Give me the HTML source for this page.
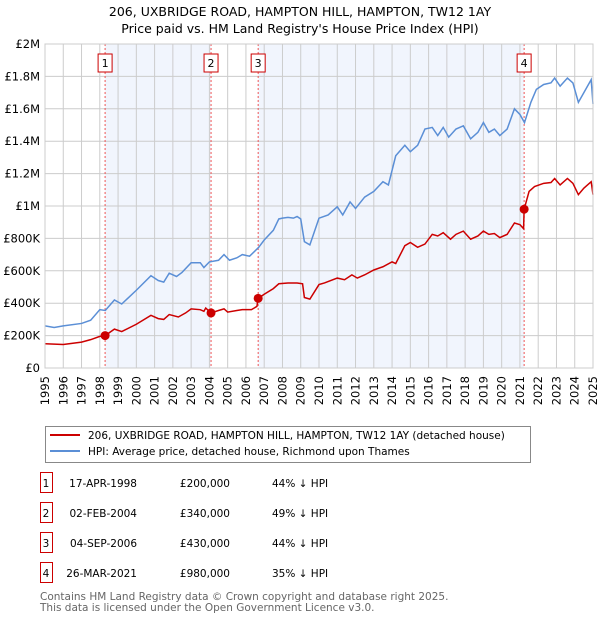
<!DOCTYPE html>
<html><head><meta charset="utf-8"><style>
body{margin:0;background:#fff;font-family:"DejaVu Sans","Liberation Sans",sans-serif;}
svg text{font-family:"DejaVu Sans","Liberation Sans",sans-serif;}
</style></head><body>
<svg id="c" width="600" height="620" viewBox="0 0 600 620" xmlns="http://www.w3.org/2000/svg">
<text x="300" y="16" text-anchor="middle" font-size="12.5" fill="#000">206, UXBRIDGE ROAD, HAMPTON HILL, HAMPTON, TW12 1AY</text>
<text x="300" y="33" text-anchor="middle" font-size="12.5" fill="#000">Price paid vs. HM Land Registry's House Price Index (HPI)</text>
<g id="shade"></g><g id="grid"></g><g id="vlines"></g><g id="series"></g><g id="axes"></g>
<g>
<rect x="45.5" y="426.5" width="485" height="36" fill="#fff" stroke="#888"/>
<line x1="50" y1="435" x2="80" y2="435" stroke="#cc0000" stroke-width="2"/>
<text x="88" y="439" font-size="10.5">206, UXBRIDGE ROAD, HAMPTON HILL, HAMPTON, TW12 1AY (detached house)</text>
<line x1="50" y1="451" x2="80" y2="451" stroke="#5b8fd6" stroke-width="2"/>
<text x="88" y="455" font-size="10.5">HPI: Average price, detached house, Richmond upon Thames</text>
</g>
<g id="table" font-size="10.5"></g>
<text x="40" y="600" font-size="10.5" fill="#666">Contains HM Land Registry data © Crown copyright and database right 2025.</text>
<text x="40" y="611" font-size="10.5" fill="#666">This data is licensed under the Open Government Licence v3.0.</text>
</svg>
<script>
const hpiYears=[1995,1995.5,1996,1997,1997.5,1998,1998.3,1998.8,1999.2,2000,2000.8,2001.2,2001.5,2001.8,2002.2,2002.5,2003,2003.5,2003.7,2004,2004.5,2004.8,2005.1,2005.5,2005.8,2006.2,2006.7,2007,2007.5,2007.8,2008,2008.3,2008.6,2008.8,2009,2009.2,2009.5,2010,2010.5,2011,2011.3,2011.7,2012,2012.5,2013,2013.5,2013.8,2014.2,2014.7,2015,2015.4,2015.8,2016.2,2016.5,2016.8,2017.1,2017.5,2017.9,2018.3,2018.7,2019,2019.3,2019.6,2019.9,2020.3,2020.7,2021,2021.25,2021.6,2021.9,2022.3,2022.7,2022.9,2023.2,2023.6,2023.9,2024.2,2024.5,2024.8,2024.9,2025];
const hpiValues=[260,250,260,275,295,360,355,420,395,480,570,540,530,585,565,590,650,650,620,655,665,700,665,680,700,690,745,790,850,920,925,930,925,935,920,780,760,925,945,995,945,1025,985,1055,1090,1150,1130,1310,1375,1335,1375,1475,1485,1435,1485,1425,1475,1495,1415,1455,1515,1455,1475,1435,1475,1600,1565,1515,1640,1720,1750,1760,1790,1740,1790,1760,1640,1700,1760,1780,1630];
const ppYears=[1995,1996,1997,1997.5,1998,1998.29,1998.8,1999.2,2000,2000.8,2001.2,2001.5,2001.8,2002.3,2002.7,2003,2003.5,2003.7,2003.8,2004.09,2004.5,2004.8,2005,2005.5,2005.8,2006.3,2006.6,2006.67,2007,2007.5,2007.8,2008.3,2008.8,2009.1,2009.2,2009.5,2010,2010.3,2011,2011.4,2011.8,2012.1,2012.5,2013,2013.5,2014,2014.2,2014.7,2015,2015.4,2015.8,2016.2,2016.5,2016.8,2017.2,2017.5,2017.9,2018.3,2018.7,2019,2019.3,2019.6,2019.9,2020.3,2020.7,2021,2021.2,2021.23,2021.5,2021.8,2022.3,2022.7,2022.9,2023.2,2023.6,2023.9,2024.2,2024.5,2024.9,2025];
const ppValues=[150,145,160,175,195,200,240,225,270,325,305,300,330,315,340,365,360,350,370,340,355,365,345,355,360,360,380,430,455,490,520,525,525,520,435,425,515,525,555,545,575,555,575,605,625,655,645,755,775,745,765,825,815,835,795,825,845,795,815,845,825,830,805,825,895,885,860,980,1090,1120,1140,1145,1170,1130,1170,1140,1070,1110,1150,1070];
const saleLabels=["1","2","3","4"];
const saleYears=[1998.29,2004.09,2006.67,2021.23];
const saleValues=[200,340,430,980];
const saleDates=["17-APR-1998","02-FEB-2004","04-SEP-2006","26-MAR-2021"];
const salePrices=["£200,000","£340,000","£430,000","£980,000"];
const saleDiffs=["44% ↓ HPI","49% ↓ HPI","44% ↓ HPI","35% ↓ HPI"];
const yTicks=[0,200,400,600,800,1000,1200,1400,1600,1800,2000];
const yTickLabels=["£0","£200K","£400K","£600K","£800K","£1M","£1.2M","£1.4M","£1.6M","£1.8M","£2M"];
const xTicks=[1995,1996,1997,1998,1999,2000,2001,2002,2003,2004,2005,2006,2007,2008,2009,2010,2011,2012,2013,2014,2015,2016,2017,2018,2019,2020,2021,2022,2023,2024,2025];

const NS="http://www.w3.org/2000/svg";
const X0=45,X1=593,Y0=368,Y1=44;
const xs=y=>X0+(y-1995)/30*(X1-X0);
const ys=v=>Y0-v/2000*(Y0-Y1);
function mk(tag,attrs,parent){const e=document.createElementNS(NS,tag);for(const k in attrs)e.setAttribute(k,attrs[k]);document.getElementById(parent).appendChild(e);return e;}
// shading
[[0,1],[2,3]].forEach(p=>{const r=mk('rect',{x:xs(saleYears[p[0]]),y:Y1,width:xs(saleYears[p[1]])-xs(saleYears[p[0]]),height:Y0-Y1,fill:'#eef3fc',opacity:0.8},'shade');

});
// grid
yTicks.forEach((v,i)=>{const l=mk('line',{x1:X0,x2:X1,y1:ys(v),y2:ys(v),stroke:'#ccc'},'grid');


const t=mk('text',{x:X0-5,y:ys(v)+4,'text-anchor':'end','font-size':'11.5'},'axes');t.textContent=yTickLabels[i];

});
xTicks.forEach(y=>{const l=mk('line',{x1:xs(y),x2:xs(y),y1:Y1,y2:Y0,stroke:'#ccc'},'grid');


const t=mk('text',{x:0,y:0,'text-anchor':'end','font-size':'11.5',transform:`translate(${xs(y)+4},${Y0+8}) rotate(-90)`},'axes');t.textContent=y;

});
const fr=mk('rect',{x:X0,y:Y1,width:X1-X0,height:Y0-Y1,fill:'none',stroke:'#ccc'},'axes');


// vlines and labels
saleYears.forEach((y,i)=>{const l=mk('line',{x1:xs(y),x2:xs(y),y1:Y1,y2:Y0,stroke:'#e55','stroke-dasharray':'2,2'},'vlines');


const b=mk('rect',{x:xs(y)-7,y:54,width:14,height:18,fill:'#fff',stroke:'#cc0000'},'vlines');


const t=mk('text',{x:xs(y),y:67,'text-anchor':'middle','font-size':'11'},'vlines');t.textContent=saleLabels[i];

});
// series
const hp=mk('polyline',{points:hpiYears.map((y,i)=>xs(y)+','+ys(hpiValues[i])).join(' '),fill:'none',stroke:'#5b8fd6','stroke-width':1.5},'series');


const pp=mk('polyline',{points:ppYears.map((y,i)=>xs(y)+','+ys(ppValues[i])).join(' '),fill:'none',stroke:'#cc0000','stroke-width':1.5},'series');


saleYears.forEach((y,i)=>{const c=mk('circle',{cx:xs(y),cy:ys(saleValues[i]),r:4.5,fill:'#cc0000'},'series');

});
// table
saleLabels.forEach((s,i)=>{const yy=483+i*30;
const b=mk('rect',{x:40.5,y:yy-10.5,width:12,height:20,fill:'#fff',stroke:'#cc0000'},'table');


const vals=[[46,s,'middle'],[137,saleDates[i],'end'],[230,salePrices[i],'end'],[272,saleDiffs[i],'start']];
vals.forEach(v=>{const t=mk('text',{x:v[0],y:yy+4,'text-anchor':v[2]},'table');t.textContent=v[1];

});});
</script>
</body></html>
